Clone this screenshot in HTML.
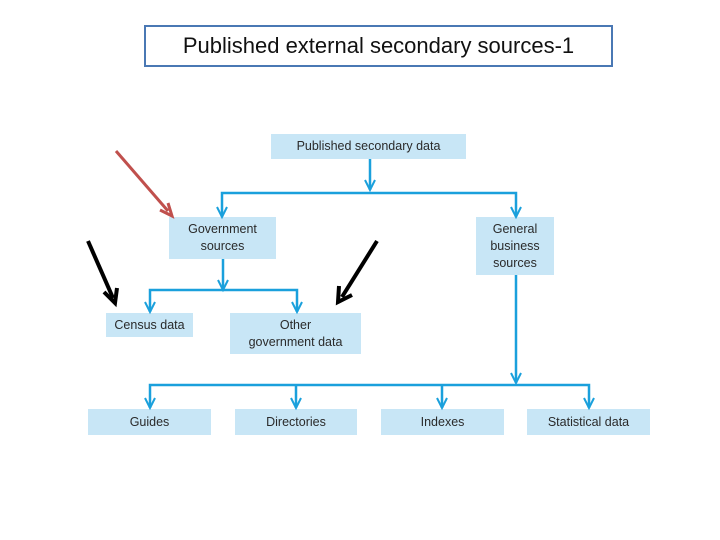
<!DOCTYPE html>
<html><head><style>
body{margin:0;background:#fff;width:720px;height:540px;overflow:hidden;position:relative;font-family:"Liberation Sans",sans-serif}
.t{position:absolute;left:144px;top:25px;width:465px;height:38px;border:2px solid #4a78b4;font-size:22px;line-height:38px;text-align:center;color:#111}
.b{position:absolute;background:#c8e6f6;color:#2a2a2a;font-size:12.5px;display:flex;align-items:center;justify-content:center;text-align:center;line-height:17px}
</style></head><body>
<div class="t">Published external secondary sources-1</div>
<div class="b" style="left:271px;top:134px;width:195px;height:25px">Published secondary data</div>
<div class="b" style="left:169px;top:217px;width:107px;height:42px">Government<br>sources</div>
<div class="b" style="left:476px;top:217px;width:78px;height:58px">General<br>business<br>sources</div>
<div class="b" style="left:106px;top:313px;width:87px;height:24px">Census data</div>
<div class="b" style="left:230px;top:313px;width:131px;height:41px">Other<br>government data</div>
<div class="b" style="left:88px;top:409px;width:123px;height:26px">Guides</div>
<div class="b" style="left:235px;top:409px;width:122px;height:26px">Directories</div>
<div class="b" style="left:381px;top:409px;width:123px;height:26px">Indexes</div>
<div class="b" style="left:527px;top:409px;width:123px;height:26px">Statistical data</div>
<svg width="720" height="540" style="position:absolute;left:0;top:0" fill="none">
<g stroke="#1aa0dc" stroke-width="2.5">
<path d="M370 159V190M222 217V193H516V217M223 259V290M150 312V290H297V312M516 275V383M150 408V385H589V408M296 385V408M442 385V408"/>
</g>
<g stroke="#1aa0dc" stroke-width="2">
<path d="M365 180L370 190L375 180M217 207L222 217L227 207M511 207L516 217L521 207M218 280L223 290L228 280M145 302L150 312L155 302M292 302L297 312L302 302M511 373L516 383L521 373M145 398L150 408L155 398M291 398L296 408L301 398M437 398L442 408L447 398M584 398L589 408L594 398"/>
</g>
<path d="M116 151L168 211" stroke="#c0504d" stroke-width="3"/>
<path d="M160 210L172 216L168 203" stroke="#c0504d" stroke-width="3"/>
<path d="M88 241L113 298" stroke="#000" stroke-width="4"/>
<path d="M104 292L115 303L117 288" stroke="#000" stroke-width="4"/>
<path d="M377 241L342 297" stroke="#000" stroke-width="4"/>
<path d="M339 286L338 302L352 295" stroke="#000" stroke-width="4"/>
</svg>
</body></html>
